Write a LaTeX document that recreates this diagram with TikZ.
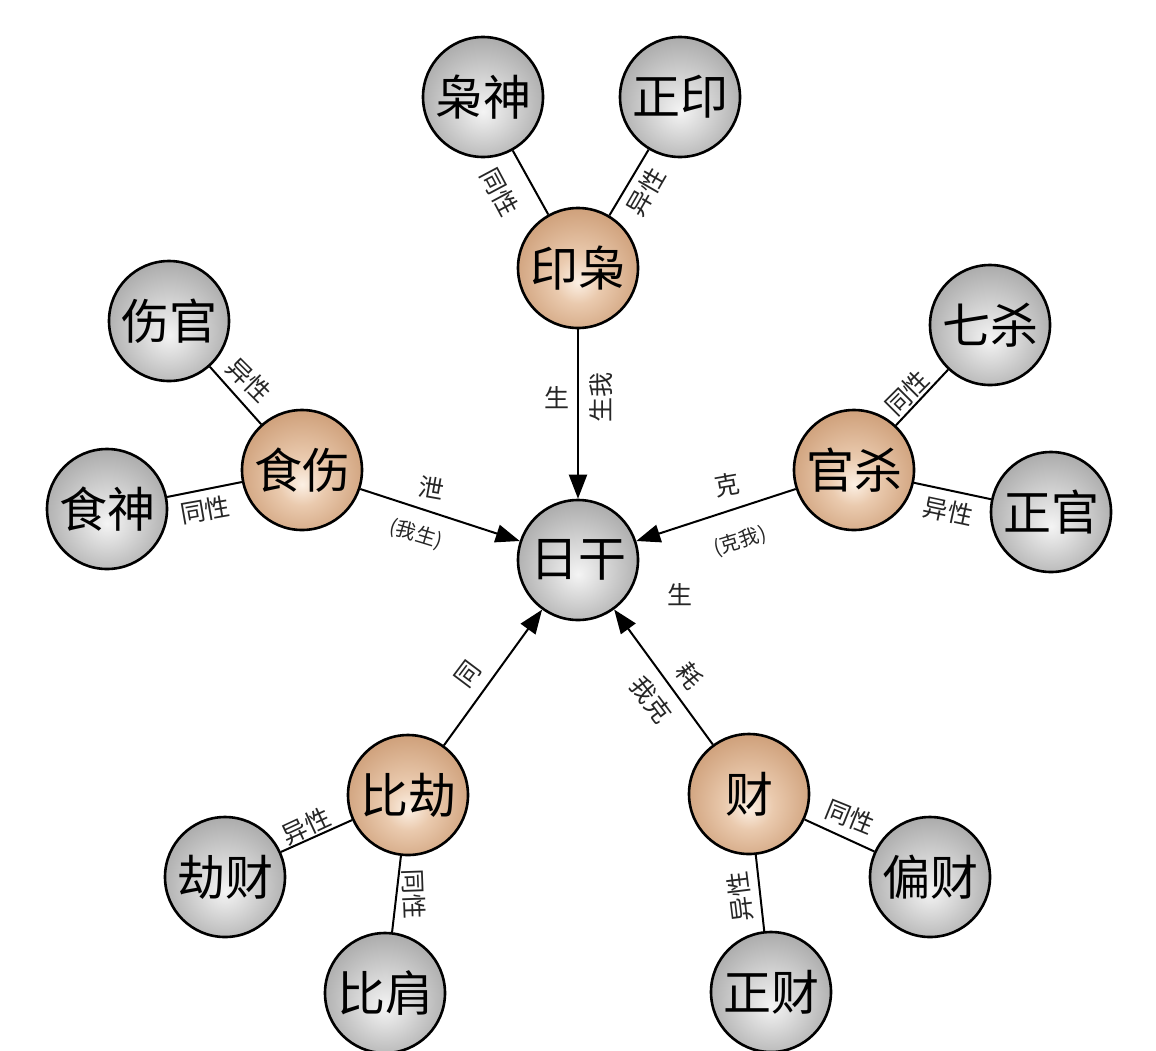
\documentclass[tikz,border=0pt]{standalone}
\usepackage{fontspec}
\newfontfamily\cjk{Noto Sans CJK SC}
\usetikzlibrary{arrows.meta}
\definecolor{gA}{RGB}{244,244,244}
\definecolor{gB}{RGB}{218,218,218}
\definecolor{gC}{RGB}{160,160,160}
\definecolor{gD}{RGB}{108,108,108}
\definecolor{oA}{RGB}{252,240,228}
\definecolor{oB}{RGB}{234,202,174}
\definecolor{oC}{RGB}{200,150,110}
\definecolor{oD}{RGB}{160,104,64}
\pgfdeclareradialshading{grayshade}{\pgfpoint{0bp}{-6bp}}{color(0bp)=(gA); color(10bp)=(gB); color(32bp)=(gC); color(50bp)=(gD)}
\pgfdeclareradialshading{orangeshade}{\pgfpoint{0bp}{-6bp}}{color(0bp)=(oA); color(10bp)=(oB); color(32bp)=(oC); color(50bp)=(oD)}
\tikzset{
  ball/.style={circle, draw=black, line width=2.6pt, minimum size=120pt, inner sep=0pt,
    font=\cjk\fontsize{48}{48}\selectfont},
  grayball/.style={ball, shading=grayshade},
  orangeball/.style={ball, shading=orangeshade},
  link/.style={line width=2pt, draw=black},
  arr/.style={link, -{Triangle[length=24pt,width=18pt]}},
  lab/.style={font=\cjk\fontsize{25}{25}\selectfont, inner sep=0pt, text=black!85},
  smalllab/.style={font=\cjk\fontsize{20}{20}\selectfont, inner sep=0pt, text=black!85},
}
\begin{document}
\begin{tikzpicture}[x=1pt,y=-1pt]
\useasboundingbox[fill=white] (0,0) rectangle (1156,1050);
% nodes
\node[grayball] (rigan) at (578,560) {日干};
\node[orangeball] (yinxiao) at (578,268) {印枭};
\node[grayball] (xiaoshen) at (483,97) {枭神};
\node[grayball] (zhengyin) at (680,97) {正印};
\node[orangeball] (shishang) at (302,470) {食伤};
\node[grayball] (shangguan) at (169,321) {伤官};
\node[grayball] (shishen) at (107,509) {食神};
\node[orangeball] (guansha) at (854,470) {官杀};
\node[grayball] (qisha) at (990,325) {七杀};
\node[grayball] (zhengguan) at (1051,512) {正官};
\node[orangeball] (bijie) at (408,795) {比劫};
\node[grayball] (jiecai) at (225,877) {劫财};
\node[grayball] (bijian) at (385,993) {比肩};
\node[orangeball] (cai) at (749,794) {财};
\node[grayball] (piancai) at (930,877) {偏财};
\node[grayball] (zhengcai) at (771,992) {正财};
% connectors
\draw[link] (xiaoshen) -- (yinxiao);
\draw[link] (zhengyin) -- (yinxiao);
\draw[link] (shangguan) -- (shishang);
\draw[link] (shishen) -- (shishang);
\draw[link] (qisha) -- (guansha);
\draw[link] (zhengguan) -- (guansha);
\draw[link] (jiecai) -- (bijie);
\draw[link] (bijian) -- (bijie);
\draw[link] (piancai) -- (cai);
\draw[link] (zhengcai) -- (cai);
\draw[arr] (yinxiao) -- (rigan);
\draw[arr] (shishang) -- (rigan);
\draw[arr] (guansha) -- (rigan);
\draw[arr] (bijie) -- (rigan);
\draw[arr] (cai) -- (rigan);
% labels
\node[lab, rotate=-62] (l1) at (500,192) {同性};
\node[lab, rotate=60] (l2) at (646,192) {异性};
\node[lab] (l3) at (557,398) {生};
\node[lab, rotate=90] (l4) at (601,397) {生我};
\node[lab, rotate=-45] (l5) at (249,380) {异性};
\node[lab, rotate=10] (l6) at (205,510) {同性};
\node[lab, rotate=-10] (l7) at (432,488) {泄};
\node[smalllab, rotate=-17] (l8) at (416,534) {(我生)};
\node[lab, rotate=45] (l9) at (907,393) {同性};
\node[lab, rotate=-12] (l10) at (948,511) {异性};
\node[lab, rotate=10] (l11) at (727,485) {克};
\node[smalllab, rotate=17] (l12) at (740,541) {(克我)};
\node[lab] (l13) at (680,595) {生};
\node[lab, rotate=53] (l14) at (468,674) {同};
\node[lab, rotate=25] (l15) at (306,826) {异性};
\node[lab, rotate=-88] (l16) at (414,894) {同性};
\node[lab, rotate=-53] (l17) at (690,676) {耗};
\node[lab, rotate=-53] (l18) at (651,700) {我克};
\node[lab, rotate=-22] (l19) at (850,817) {同性};
\node[lab, rotate=97] (l20) at (740,897) {异性};
\end{tikzpicture}
\end{document}
